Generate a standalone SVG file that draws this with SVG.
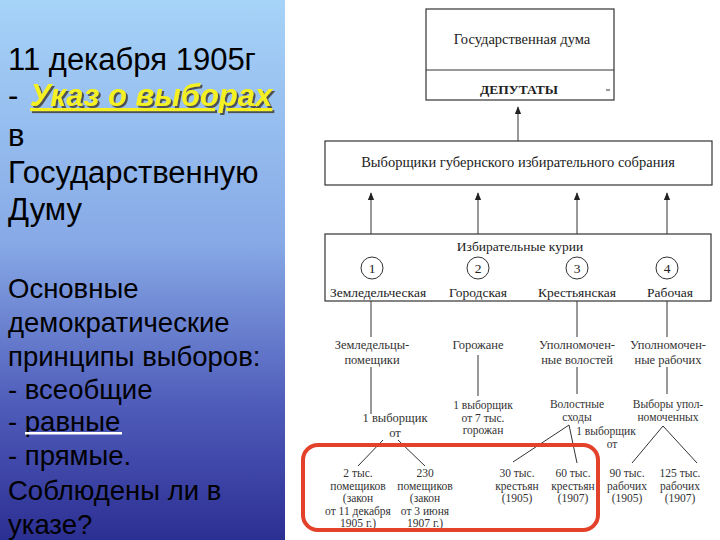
<svg xmlns="http://www.w3.org/2000/svg" width="720" height="540" viewBox="0 0 720 540">
<defs>
  <linearGradient id="bg" x1="0" y1="0" x2="0" y2="1">
    <stop offset="0" stop-color="#a6d3f8"/>
    <stop offset="0.45" stop-color="#87a9e6"/>
    <stop offset="0.75" stop-color="#4f5cba"/>
    <stop offset="1" stop-color="#2c2f92"/>
  </linearGradient>
  <filter id="shadow" x="-5%" y="-20%" width="115%" height="150%">
    <feDropShadow dx="2" dy="2" stdDeviation="0.6" flood-color="#444" flood-opacity="0.9"/>
  </filter>
  <marker id="arr" viewBox="0 0 10 10" refX="9" refY="5" markerWidth="8" markerHeight="8" markerUnits="userSpaceOnUse" orient="auto">
    <path d="M0,1 L10,5 L0,9 Z" fill="#222"/>
  </marker>
  <style>
    .big{font-family:"Liberation Sans",Arial,sans-serif;font-size:31px;fill:#000}
    .mid{font-family:"Liberation Sans",Arial,sans-serif;font-size:27.5px;fill:#000}
    .box{fill:#fff;stroke:#333;stroke-width:1.2}
    .bt{font-family:"Liberation Serif","Times New Roman",serif;font-size:13.5px;fill:#222;text-anchor:middle}
    .bt2{font-family:"Liberation Serif","Times New Roman",serif;font-size:14.5px;fill:#222;text-anchor:middle}
    .st{font-family:"Liberation Serif","Times New Roman",serif;font-size:12.5px;fill:#333;text-anchor:middle}
    .qt{font-family:"Liberation Serif","Times New Roman",serif;font-size:11.5px;fill:#333;text-anchor:middle}
    .ln{stroke:#333;stroke-width:1;fill:none}
    .cir{fill:#fff;stroke:#333;stroke-width:1}
  </style>
</defs>
<rect x="0" y="0" width="720" height="540" fill="#fff"/>
<g id="left-panel">
  <rect x="0" y="0" width="285" height="540" fill="url(#bg)"/>
  <text class="big" x="8" y="70">11 декабря 1905г</text>
  <text class="big" x="8" y="106">-</text>
  <text x="30" y="106" font-family="'Liberation Sans',Arial,sans-serif" font-size="31" font-weight="bold" font-style="italic" fill="#f4f020" text-decoration="underline" filter="url(#shadow)">Указ о выборах</text>
  <text class="big" x="8" y="146">в</text>
  <text class="big" x="8" y="183">Государственную</text>
  <text class="big" x="8" y="220">Думу</text>
  <text class="mid" x="8" y="298">Основные</text>
  <text class="mid" x="8" y="332">демократические</text>
  <text class="mid" x="8" y="366">принципы выборов:</text>
  <text class="mid" x="8" y="399">- всеобщие</text>
  <text class="mid" x="8" y="431">- равные</text>
  <rect x="25" y="432" width="97" height="2.5" fill="#fff"/>
  <text class="mid" x="8" y="465">- прямые.</text>
  <text class="mid" x="8" y="500">Соблюдены ли в</text>
  <text class="mid" x="8" y="534">указе?</text>
</g>
<g id="connectors">
  <line class="ln" x1="518" y1="141" x2="518" y2="107" marker-end="url(#arr)"/>
  <line class="ln" x1="371" y1="234" x2="371" y2="193" marker-end="url(#arr)"/>
  <line class="ln" x1="478" y1="234" x2="478" y2="193" marker-end="url(#arr)"/>
  <line class="ln" x1="577" y1="234" x2="577" y2="193" marker-end="url(#arr)"/>
  <line class="ln" x1="667" y1="234" x2="667" y2="193" marker-end="url(#arr)"/>
  <line class="ln" x1="371" y1="301" x2="371" y2="337"/>
  <line class="ln" x1="577" y1="301" x2="577" y2="337"/>
  <line class="ln" x1="667" y1="301" x2="667" y2="337"/>
  <line class="ln" x1="371" y1="367" x2="371" y2="414"/>
  <line class="ln" x1="478" y1="355" x2="478" y2="396"/>
  <line class="ln" x1="577" y1="367" x2="577" y2="394"/>
  <line class="ln" x1="667" y1="367" x2="667" y2="394"/>
  <line class="ln" x1="383" y1="440" x2="358" y2="466"/>
  <line class="ln" x1="398" y1="440" x2="425" y2="466"/>
  <line class="ln" x1="569" y1="425" x2="513" y2="462"/>
  <line class="ln" x1="569" y1="425" x2="577" y2="463"/>
  <line class="ln" x1="663" y1="426" x2="632" y2="463"/>
  <line class="ln" x1="663" y1="426" x2="697" y2="463"/>
</g>
<g id="duma">
  <rect class="box" x="426" y="9" width="188" height="91"/>
  <line class="ln" x1="426" y1="70" x2="614" y2="70"/>
  <text class="bt2" x="522" y="44">Государственная дума</text>
  <text class="bt" x="519" y="94" font-weight="bold">ДЕПУТАТЫ</text>
  <line class="ln" x1="606" y1="90" x2="610" y2="90"/>
</g>
<g id="electors">
  <rect class="box" x="325" y="141" width="387" height="44"/>
  <text class="bt2" x="518" y="167">Выборщики губернского избирательного собрания</text>
</g>
<g id="curiae">
  <rect class="box" x="325" y="234" width="386" height="67"/>
  <text class="bt" x="520" y="251">Избирательные курии</text>
  <circle class="cir" cx="372" cy="268" r="11"/>
  <circle class="cir" cx="478" cy="268" r="11"/>
  <circle class="cir" cx="577" cy="268" r="11"/>
  <circle class="cir" cx="667" cy="268" r="11"/>
  <text class="bt" x="372" y="273">1</text>
  <text class="bt" x="478" y="273">2</text>
  <text class="bt" x="577" y="273">3</text>
  <text class="bt" x="667" y="273">4</text>
  <text class="bt" x="378" y="297">Земледельческая</text>
  <text class="bt" x="478" y="297">Городская</text>
  <text class="bt" x="577" y="297">Крестьянская</text>
  <text class="bt" x="670" y="297">Рабочая</text>
</g>
<g id="landowners">
  <text class="st" x="372" y="349">Земледельцы-</text>
  <text class="st" x="372" y="364">помещики</text>
  <text class="st" x="395" y="422">1 выборщик</text>
  <text class="st" x="395" y="437">от</text>
</g>
<g id="townsmen">
  <text class="st" x="478" y="349">Горожане</text>
  <text class="qt" x="483" y="409">1 выборщик</text>
  <text class="qt" x="483" y="421.5">от 7 тыс.</text>
  <text class="qt" x="483" y="434">горожан</text>
</g>
<g id="peasants">
  <text class="st" x="577" y="349">Уполномочен-</text>
  <text class="st" x="577" y="364">ные волостей</text>
  <text class="qt" x="577" y="408">Волостные</text>
  <text class="qt" x="577" y="420.5">сходы</text>
  <text class="qt" x="606" y="435">1 выборщик</text>
  <text class="qt" x="612" y="447.5">от</text>
</g>
<g id="workers">
  <text class="st" x="668" y="349">Уполномочен-</text>
  <text class="st" x="668" y="364">ные рабочих</text>
  <text class="qt" x="668" y="408">Выборы упол-</text>
  <text class="qt" x="668" y="420.5">номоченных</text>
</g>
<g id="quotas">
  <text class="qt" x="358" y="477">2 тыс.</text>
  <text class="qt" x="358" y="489.5">помещиков</text>
  <text class="qt" x="358" y="502">(закон</text>
  <text class="qt" x="358" y="514.5">от 11 декабря</text>
  <text class="qt" x="358" y="527">1905 г.)</text>
  <text class="qt" x="425" y="477">230</text>
  <text class="qt" x="425" y="489.5">помещиков</text>
  <text class="qt" x="425" y="502">(закон</text>
  <text class="qt" x="425" y="514.5">от 3 июня</text>
  <text class="qt" x="425" y="527">1907 г.)</text>
  <text class="qt" x="517" y="477">30 тыс.</text>
  <text class="qt" x="517" y="489.5">крестьян</text>
  <text class="qt" x="517" y="502">(1905)</text>
  <text class="qt" x="573" y="477">60 тыс.</text>
  <text class="qt" x="573" y="489.5">крестьян</text>
  <text class="qt" x="573" y="502">(1907)</text>
  <text class="qt" x="627" y="477">90 тыс.</text>
  <text class="qt" x="627" y="489.5">рабочих</text>
  <text class="qt" x="627" y="502">(1905)</text>
  <text class="qt" x="680" y="477">125 тыс.</text>
  <text class="qt" x="680" y="489.5">рабочих</text>
  <text class="qt" x="680" y="502">(1907)</text>
</g>
<g id="highlight">
  <rect x="303" y="445" width="295" height="85" rx="15" fill="none" stroke="#e3412a" stroke-width="4"/>
</g>
</svg>
